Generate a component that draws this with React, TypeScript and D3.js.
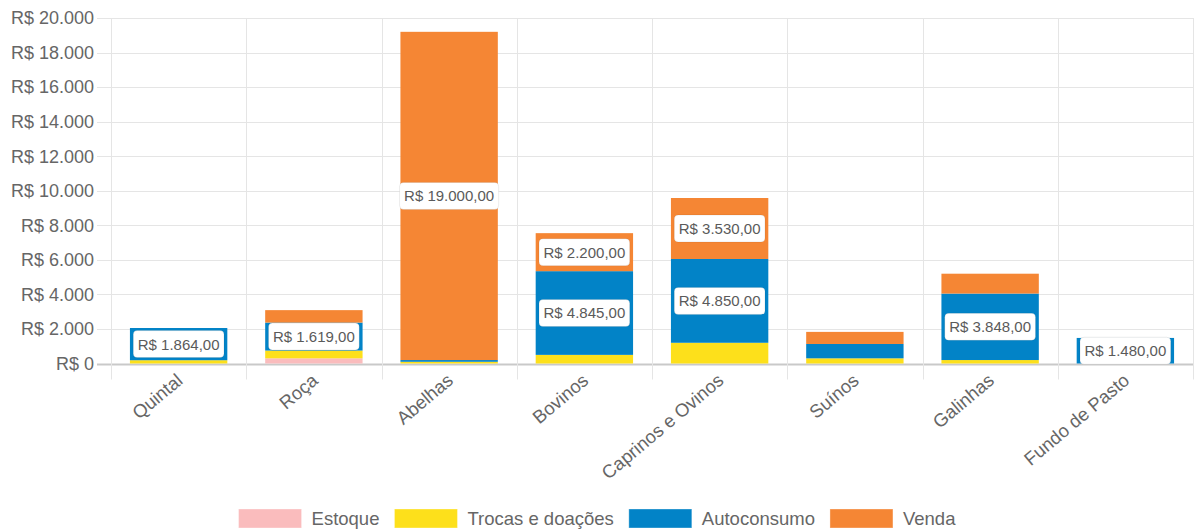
import React, { useEffect, useRef } from 'react';
import * as d3 from 'd3';

const categories = ['Quintal', 'Roça', 'Abelhas', 'Bovinos', 'Caprinos e Ovinos', 'Suínos', 'Galinhas', 'Fundo de Pasto'];
const estoque = [0, 300, 0, 0, 0, 0, 0, 0];
const trocas = [190, 450, 100, 500, 1200, 300, 200, 0];
const autoconsumo = [1864, 1619, 100, 4845, 4850, 830, 3848, 1480];
const venda = [0, 720, 19000, 2200, 3530, 700, 1150, 0];
const yTicks = [0, 2000, 4000, 6000, 8000, 10000, 12000, 14000, 16000, 18000, 20000];

const series = [
  { key: 'Estoque', values: estoque, color: '#fabcbd' },
  { key: 'Trocas e doações', values: trocas, color: '#fde01b' },
  { key: 'Autoconsumo', values: autoconsumo, color: '#0283c7' },
  { key: 'Venda', values: venda, color: '#f58634' },
];

const FONT = '"Liberation Sans", Arial, sans-serif';

const locale = d3.formatLocale({ decimal: ',', thousands: '.', grouping: [3], currency: ['R$ ', ''] });
const fmtTick = locale.format('$,.0f');
const fmtLabel = locale.format('$,.2f');

const App: React.FC = () => {
  const svgRef = useRef<SVGSVGElement | null>(null);

  useEffect(() => {
    const svg = d3.select(svgRef.current);
    svg.selectAll('*').remove();
    const width = 1195;
    const height = 532;
    const margin = { top: 18, right: 2, bottom: 168.5, left: 111 };

    const x = d3.scaleBand().domain(categories).range([margin.left, width - margin.right]).paddingInner(0).paddingOuter(0);
    const xBar = d3.scaleBand().domain(categories).range([margin.left, width - margin.right]).paddingInner(0.28).paddingOuter(0.14);
    const y = d3.scaleLinear().domain([0, 20000]).range([height - margin.bottom, margin.top]);

    // grid
    const grid = svg.append('g');
    grid.selectAll('line.h')
      .data(yTicks)
      .join('line')
      .attr('x1', margin.left - 14)
      .attr('x2', width - margin.right)
      .attr('y1', (d) => Math.round(y(d)) + 0.5)
      .attr('y2', (d) => Math.round(y(d)) + 0.5)
      .attr('stroke', (d) => (d === 0 ? '#c9c9c9' : '#e5e5e5'))
      .attr('stroke-width', (d) => (d === 0 ? 2 : 1));

    const vx = categories.map((c) => x(c)!).concat([width - margin.right]);
    grid.selectAll('line.v')
      .data(vx)
      .join('line')
      .attr('x1', (d) => Math.round(d) + 0.5)
      .attr('x2', (d) => Math.round(d) + 0.5)
      .attr('y1', margin.top)
      .attr('y2', y(0) + 16)
      .attr('stroke', '#e5e5e5');

    // y tick labels
    svg.append('g')
      .selectAll('text')
      .data(yTicks)
      .join('text')
      .attr('x', margin.left - 17)
      .attr('y', (d) => y(d))
      .attr('dy', '0.35em')
      .attr('text-anchor', 'end')
      .attr('fill', '#666')
      .style('font', `18px ${FONT}`)
      .text((d) => fmtTick(d));

    // stacked bars
    const rows = categories.map((c, i) => {
      const r: any = { cat: c };
      series.forEach((s) => (r[s.key] = s.values[i]));
      return r;
    });
    const stack = d3.stack().keys(series.map((s) => s.key))(rows);

    const bars = svg.append('g');
    stack.forEach((layer, si) => {
      bars.append('g')
        .selectAll('rect')
        .data(layer)
        .join('rect')
        .attr('x', (d: any) => xBar(d.data.cat)!)
        .attr('width', xBar.bandwidth())
        .attr('y', (d) => y(d[1]))
        .attr('height', (d) => Math.max(0, y(d[0]) - y(d[1])))
        .attr('fill', series[si].color);
    });

    // data labels
    const labels = svg.append('g');
    stack.forEach((layer) => {
      layer.forEach((d: any) => {
        const v = d[1] - d[0];
        if (v < 1400) return;
        const cx = xBar(d.data.cat)! + xBar.bandwidth() / 2;
        const cy = (y(d[0]) + y(d[1])) / 2;
        const g = labels.append('g');
        const rect = g.append('rect');
        const t = g.append('text')
          .attr('x', cx)
          .attr('y', cy)
          .attr('dy', '0.36em')
          .attr('text-anchor', 'middle')
          .attr('fill', '#5a5a5a')
          .style('font', `15px ${FONT}`)
          .text(fmtLabel(v));
        const w = (t.node() as SVGTextElement).getComputedTextLength() + 9;
        const h = 27;
        rect.attr('x', cx - w / 2)
          .attr('y', cy - h / 2)
          .attr('width', w)
          .attr('height', h)
          .attr('rx', 4)
          .attr('fill', '#fff')
          .attr('stroke', 'rgba(0,0,0,0.08)');
      });
    });

    // x labels
    svg.append('g')
      .selectAll('text')
      .data(categories)
      .join('text')
      .attr('transform', (d) => `translate(${x(d)! + x.bandwidth() / 2 - 3},${y(0) + 9}) rotate(-40)`)
      .attr('text-anchor', 'end')
      .attr('dy', '0.7em')
      .attr('fill', '#666')
      .style('font', `18.5px ${FONT}`)
      .text((d) => d);

    // legend
    const legend = svg.append('g');
    const boxW = 63;
    const boxH = 19;
    const items = series.map((s) => {
      const g = legend.append('g');
      g.append('rect').attr('width', boxW).attr('height', boxH).attr('fill', s.color)
        .attr('stroke', 'rgba(255,255,255,0.35)');
      const t = g.append('text')
        .attr('x', boxW + 10)
        .attr('y', boxH / 2)
        .attr('dy', '0.35em')
        .attr('fill', '#666')
        .style('font', `18.5px ${FONT}`)
        .text(s.key);
      const w = boxW + 10 + (t.node() as SVGTextElement).getComputedTextLength();
      return { g, w };
    });
    const gap = 15;
    const total = d3.sum(items, (d) => d.w) + gap * (items.length - 1);
    let lx = 597 - total / 2;
    items.forEach((it) => {
      it.g.attr('transform', `translate(${lx},509)`);
      lx += it.w + gap;
    });
  }, []);

  return (
    <svg
      ref={svgRef}
      width={1195}
      height={532}
      style={{ position: 'absolute', left: 0, top: 0, background: '#fff' }}
    ></svg>
  );
};

export default App;
